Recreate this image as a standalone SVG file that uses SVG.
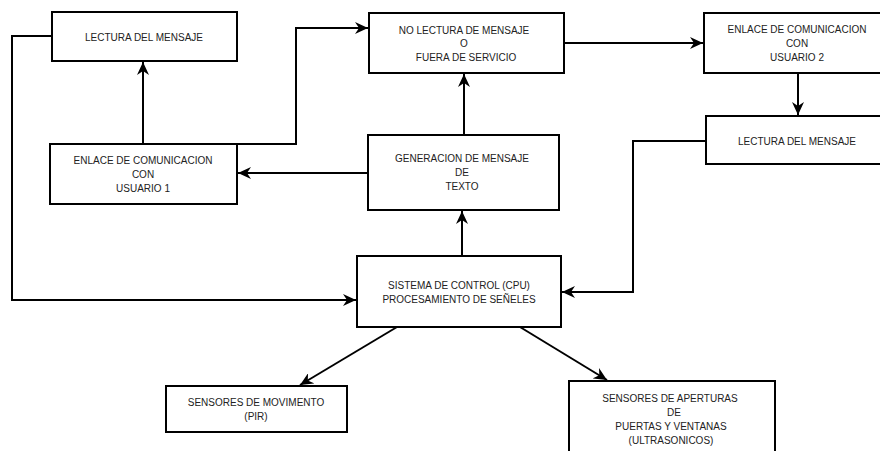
<svg xmlns="http://www.w3.org/2000/svg" width="880" height="451" viewBox="0 0 880 451">
<style>
.box{fill:#fff;stroke:#000;stroke-width:2}
.c{fill:none;stroke:#000;stroke-width:2}
text{font-family:"Liberation Sans",Arial,sans-serif;font-size:10px;fill:#222;text-anchor:middle}
</style>
<defs>
<marker id="ah" markerUnits="userSpaceOnUse" markerWidth="14" markerHeight="12" viewBox="0 0 14 12" refX="13" refY="6" orient="auto">
<path d="M0,0 L13,6 L0,12 L4,6 z" fill="#000"/>
</marker>
</defs>
<rect width="880" height="451" fill="#fff"/>
<g id="connectors">
<polyline class="c" points="52,36 12,36 12,300 356,300" marker-end="url(#ah)"/>
<line class="c" x1="143" y1="144" x2="143" y2="62" marker-end="url(#ah)"/>
<polyline class="c" points="237,144 296,144 296,28 368,28" marker-end="url(#ah)"/>
<line class="c" x1="368" y1="173" x2="238" y2="173" marker-end="url(#ah)"/>
<line class="c" x1="464" y1="135" x2="464" y2="74" marker-end="url(#ah)"/>
<line class="c" x1="564" y1="43" x2="703" y2="43" marker-end="url(#ah)"/>
<line class="c" x1="798" y1="73" x2="798" y2="115" marker-end="url(#ah)"/>
<polyline class="c" points="706,141 633,141 633,292 562,292" marker-end="url(#ah)"/>
<line class="c" x1="462" y1="256" x2="462" y2="211" marker-end="url(#ah)"/>
<line class="c" x1="397" y1="327" x2="300" y2="385" marker-end="url(#ah)"/>
<line class="c" x1="520" y1="327" x2="607" y2="380" marker-end="url(#ah)"/>
</g>
<g id="lectura1">
<rect class="box" x="52" y="12" width="185" height="49"/>
<text x="144" y="41">LECTURA DEL MENSAJE</text>
</g>
<g id="enlace1">
<rect class="box" x="50" y="144" width="187" height="60"/>
<text x="143" y="164">ENLACE DE COMUNICACION</text>
<text x="143" y="178">CON</text>
<text x="143" y="192">USUARIO 1</text>
</g>
<g id="nolectura">
<rect class="box" x="369" y="13" width="195" height="60"/>
<text x="464" y="34">NO LECTURA DE MENSAJE</text>
<text x="464" y="47">O</text>
<text x="466" y="61">FUERA DE SERVICIO</text>
</g>
<g id="generacion">
<rect class="box" x="368" y="135" width="191" height="75"/>
<text x="462" y="162">GENERACION DE MENSAJE</text>
<text x="462" y="176">DE</text>
<text x="462" y="190">TEXTO</text>
</g>
<g id="enlace2">
<rect class="box" x="704" y="13" width="200" height="60"/>
<text x="797" y="33">ENLACE DE COMUNICACION</text>
<text x="797" y="47">CON</text>
<text x="797" y="61">USUARIO 2</text>
</g>
<g id="lectura2">
<rect class="box" x="706" y="116" width="200" height="48"/>
<text x="797" y="145">LECTURA DEL MENSAJE</text>
</g>
<g id="sistema">
<rect class="box" x="357" y="256" width="204" height="71"/>
<text x="459" y="289">SISTEMA DE CONTROL (CPU)</text>
<text x="459" y="303">PROCESAMIENTO DE SEÑELES</text>
</g>
<g id="pir">
<rect class="box" x="166" y="386" width="181" height="46"/>
<text x="256" y="406">SENSORES DE MOVIMENTO</text>
<text x="256" y="420">(PIR)</text>
</g>
<g id="ultrasonicos">
<rect class="box" x="569" y="381" width="206" height="85"/>
<text x="670" y="402">SENSORES DE APERTURAS</text>
<text x="674" y="416">DE</text>
<text x="671" y="430">PUERTAS Y VENTANAS</text>
<text x="671" y="444">(ULTRASONICOS)</text>
</g>
</svg>
